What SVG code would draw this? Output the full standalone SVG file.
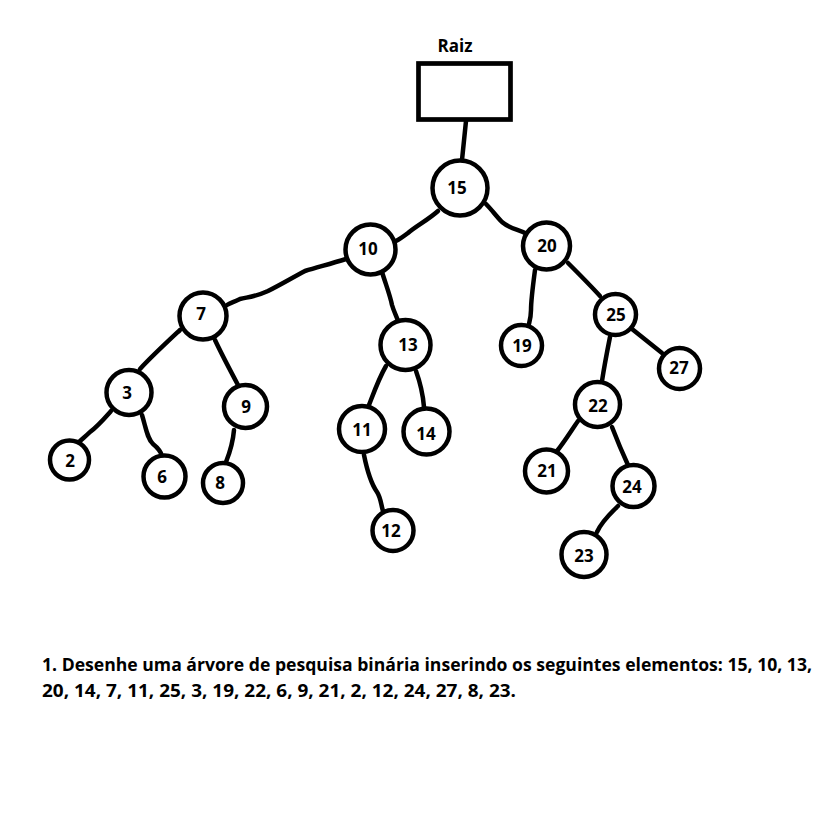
<svg xmlns="http://www.w3.org/2000/svg" width="817" height="820" viewBox="0 0 817 820">
<style>
  .n circle { fill: #fff; stroke: #000; stroke-width: 4.5; }
  .n text { font-family: "Open Sans", "Liberation Sans", sans-serif; font-weight: bold; font-size: 17px; text-anchor: middle; fill: #000; }
  #edges path { fill: none; stroke: #000; stroke-width: 4.5; stroke-linecap: round; stroke-linejoin: round; }
  .t { font-family: "Open Sans", "Liberation Sans", sans-serif; font-weight: bold; font-size: 17px; fill: #000; }
</style>
<rect width="817" height="820" fill="#fff"/>
<g id="edges">
  <path d="M466,121 L462,160"/>
  <path d="M438,211 C428,220 416,226 408,233 C404,236 400,239 396,241"/>
  <path d="M486,204 C492,210 496,216 502,222 C510,229 518,229 527,234"/>
  <path d="M346,259 C330,264 318,267 305,271 C290,279 280,285 268,291 C255,297 248,297 240,299 C234,302 230,303 227,305"/>
  <path d="M382,272 C386,285 390,295 392,305 C394,312 397,317 398,321"/>
  <path d="M535,270 C533,285 531,300 531,310 C531,316 530,320 529,324"/>
  <path d="M568,263 C580,275 590,285 600,296"/>
  <path d="M632,329 L662,353"/>
  <path d="M610,337 C607,352 604,368 602,381"/>
  <path d="M578,421 C571,431 565,441 557,451"/>
  <path d="M612,427 C617,440 622,452 628,465"/>
  <path d="M618,506 C610,514 602,521 597,532"/>
  <path d="M386,366 C379,378 374,392 369,405"/>
  <path d="M416,371 C420,382 423,395 424,407"/>
  <path d="M364,455 C367,470 370,482 377,492 C381,498 381,505 383,511"/>
  <path d="M180,330 C165,344 152,356 140,369"/>
  <path d="M215,340 C222,355 230,370 238,385"/>
  <path d="M111,411 C103,420 98,426 90,432 C86,436 82,439 79,442"/>
  <path d="M142,415 C146,428 147,438 153,444 C158,448 161,452 162,456"/>
  <path d="M234,430 C233,442 230,452 226,462"/>
</g>
<g id="raiz">
  <text class="t" x="455" y="52" text-anchor="middle">Raiz</text>
  <rect x="418.5" y="63.5" width="92" height="56" fill="#fff" stroke="#000" stroke-width="4.7"/>
</g>
<g id="n15" class="n"><circle cx="460" cy="188" r="27.5"/><text x="457" y="194">15</text></g>
<g id="n10" class="n"><circle cx="370.5" cy="249.5" r="25"/><text x="368" y="255">10</text></g>
<g id="n20" class="n"><circle cx="546.5" cy="246" r="23.5"/><text x="547" y="252">20</text></g>
<g id="n7" class="n"><circle cx="203" cy="316" r="23.5"/><text x="201" y="320">7</text></g>
<g id="n13" class="n"><circle cx="405.5" cy="345" r="25"/><text x="408" y="351">13</text></g>
<g id="n19" class="n"><circle cx="521.5" cy="345.5" r="20.5"/><text x="522" y="352">19</text></g>
<g id="n25" class="n"><circle cx="615.5" cy="314.5" r="20.5"/><text x="616" y="321">25</text></g>
<g id="n27" class="n"><circle cx="679.5" cy="368.5" r="20.5"/><text x="679" y="374">27</text></g>
<g id="n3" class="n"><circle cx="129" cy="392.5" r="22.5"/><text x="127" y="399">3</text></g>
<g id="n9" class="n"><circle cx="245.5" cy="406.5" r="21.5"/><text x="246" y="413">9</text></g>
<g id="n11" class="n"><circle cx="362" cy="429" r="23"/><text x="362" y="436">11</text></g>
<g id="n14" class="n"><circle cx="426.5" cy="431.5" r="23"/><text x="426" y="440">14</text></g>
<g id="n22" class="n"><circle cx="597.5" cy="404.5" r="22.5"/><text x="598" y="412">22</text></g>
<g id="n2" class="n"><circle cx="69.5" cy="460" r="19.5"/><text x="70" y="467">2</text></g>
<g id="n6" class="n"><circle cx="164.5" cy="476.5" r="21"/><text x="162" y="483">6</text></g>
<g id="n8" class="n"><circle cx="223" cy="483" r="20"/><text x="220" y="489">8</text></g>
<g id="n21" class="n"><circle cx="546.5" cy="471" r="21.5"/><text x="547" y="477">21</text></g>
<g id="n24" class="n"><circle cx="633.5" cy="486" r="21"/><text x="632" y="493">24</text></g>
<g id="n12" class="n"><circle cx="393" cy="530.5" r="20.5"/><text x="391" y="537">12</text></g>
<g id="n23" class="n"><circle cx="584" cy="554.5" r="22.5"/><text x="584" y="562">23</text></g>
<g id="caption">
  <text class="t" x="42" y="671" textLength="770" lengthAdjust="spacingAndGlyphs">1. Desenhe uma árvore de pesquisa binária inserindo os seguintes elementos: 15, 10, 13,</text>
  <text class="t" x="42" y="697" textLength="474" lengthAdjust="spacingAndGlyphs">20, 14, 7, 11, 25, 3, 19, 22, 6, 9, 21, 2, 12, 24, 27, 8, 23.</text>
</g>
</svg>
